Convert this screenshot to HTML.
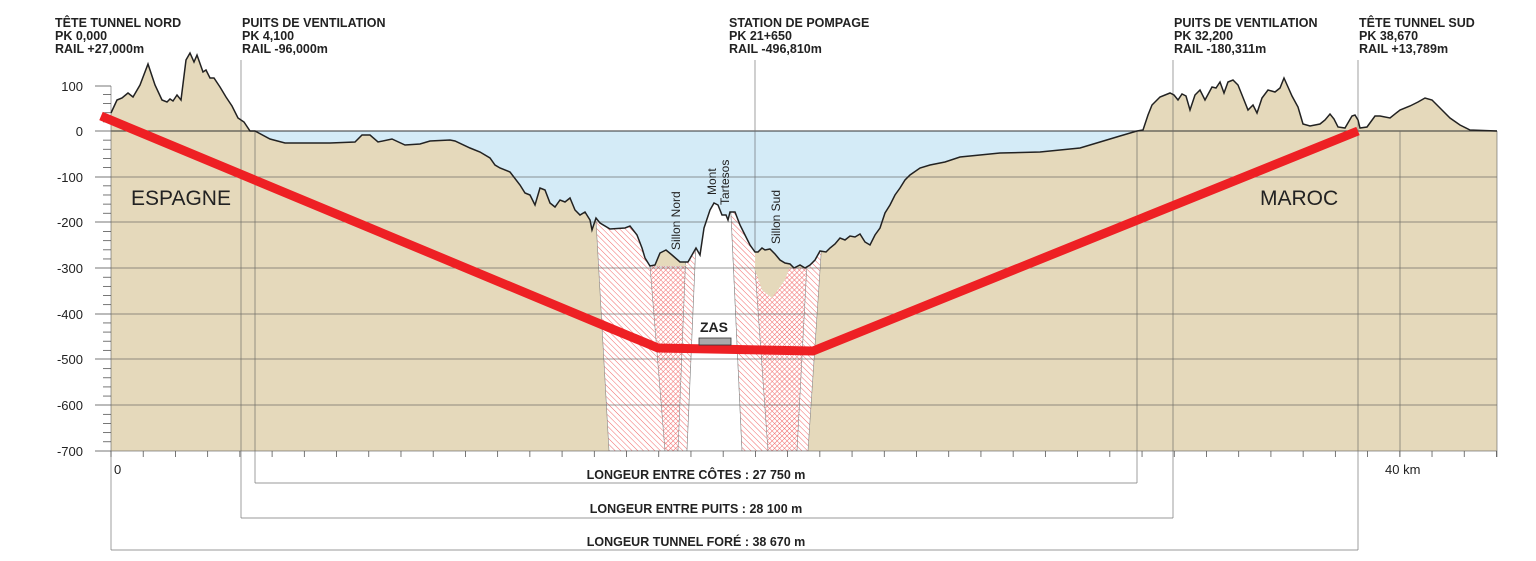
<!DOCTYPE html>
<html><head><meta charset="utf-8"><style>
html,body{margin:0;padding:0;background:#fff;}
svg{display:block;font-family:"Liberation Sans Narrow","Liberation Sans",sans-serif;}
.h{font-size:12.5px;font-weight:bold;fill:#222;}
.yl{font-size:13px;fill:#222;text-anchor:end;}
.b{font-size:12.5px;font-weight:bold;fill:#222;text-anchor:middle;}
</style></head><body>
<svg width="1536" height="561" viewBox="0 0 1536 561" xmlns="http://www.w3.org/2000/svg">
<defs>
<pattern id="diag" width="4" height="4" patternUnits="userSpaceOnUse" patternTransform="rotate(-45)">
<rect width="4" height="4" fill="#fff"/><line x1="0" y1="0" x2="0" y2="4" stroke="#f26a6a" stroke-width="1"/></pattern>
<pattern id="cross" width="3.5" height="3.5" patternUnits="userSpaceOnUse" patternTransform="rotate(45)">
<rect width="3.5" height="3.5" fill="#fff"/><line x1="0" y1="0" x2="0" y2="3.5" stroke="#f26a6a" stroke-width="1"/><line x1="0" y1="0" x2="3.5" y2="0" stroke="#f26a6a" stroke-width="1"/></pattern>
<clipPath id="ground"><polygon id="gp" points="111,451 111,113 117,100 122,98 128,93 133,97 140,85 148,64 155,85 162,100 167,102 170,99 173,101 177,95 181,100 186,60 190,53 194,62 197,55 203,72 206,70 210,78 214,78 220,87 226,97 232,106 238,118 244,122 250,131 255,131 270,139 285,143 300,143 330,143 355,142 362,135 370,135 378,142 392,139 405,145 420,144 430,141 450,140 455,141 470,148 480,152 490,158 495,165 500,168 510,172 520,185 525,193 530,195 535,205 540,188 545,190 550,203 555,207 560,200 565,202 570,198 575,210 580,215 585,212 590,220 592,230 596,218 600,223 610,229 625,228 630,226 637,235 642,248 645,258 650,266 655,265 660,253 666,250 672,255 680,262 688,262 692,255 696,248 700,255 704,228 710,210 714,203 718,205 722,215 726,215 728,220 730,212 735,212 740,225 745,235 750,245 755,252 758,252 762,248 765,250 770,249 775,254 780,260 785,263 790,264 794,268 800,265 805,268 810,265 815,260 820,251 826,252 830,248 835,244 840,238 845,240 850,236 855,237 860,234 865,242 870,245 875,235 880,228 885,213 890,205 895,195 900,188 905,180 910,175 920,168 930,165 945,162 960,157 980,155 1000,153 1040,152 1060,150 1080,148 1100,142 1120,136 1137,131 1143,130 1148,115 1152,105 1160,97 1170,93 1174,95 1178,100 1182,94 1186,96 1190,110 1195,95 1200,90 1205,100 1212,87 1216,88 1220,82 1224,93 1228,82 1233,80 1238,85 1244,100 1248,110 1253,105 1257,113 1262,98 1268,90 1275,92 1280,88 1284,78 1288,87 1292,96 1298,107 1303,124 1310,126 1320,124 1325,120 1330,114 1334,119 1338,127 1345,128 1352,116 1355,115 1358,120 1360,128 1367,127 1375,116 1380,116 1390,118 1400,110 1410,106 1418,102 1425,98 1432,100 1440,108 1450,118 1460,125 1470,130 1497,131 1497,451"/></clipPath>
</defs>
<rect x="255" y="131" width="882" height="140" fill="#d4ebf7"/>
<use href="#gp" fill="#e5d9bb"/>
<g clip-path="url(#ground)">
<polygon points="592,150 650,150 665,451 609,451" fill="url(#diag)" stroke="#888" stroke-width="0.6"/>
<polygon points="650,266 690,266 678,451 665,451" fill="url(#cross)" stroke="#888" stroke-width="0.6"/>
<polygon points="690,150 700,150 687,451 678,451" fill="url(#diag)" stroke="#888" stroke-width="0.6"/>
<polygon points="700,150 728,150 742,451 687,451" fill="#fff" stroke="#888" stroke-width="0.6"/>
<polygon points="728,150 755,150 768,451 742,451" fill="url(#diag)" stroke="#888" stroke-width="0.6"/>
<polygon points="755,268 813,268 797,451 768,451" fill="url(#cross)" stroke="#888" stroke-width="0.6"/>
<polygon points="813,150 828,150 808,451 797,451" fill="url(#diag)" stroke="#888" stroke-width="0.6"/>
<path d="M655,266 L660,253 666,250 672,255 680,262 688,266 Z" fill="#e5d9bb"/>
<path d="M755,252 L762,248 770,249 780,260 790,266 785,280 772,298 762,290 755,270 Z" fill="#e5d9bb"/>
</g>
<g stroke="#555" stroke-width="0.7" fill="none" opacity="0.8">
<line x1="111" y1="131" x2="1497" y2="131" stroke="#333" stroke-width="1.2"/>
<line x1="111" y1="177" x2="1497" y2="177"/><line x1="111" y1="222" x2="1497" y2="222"/>
<line x1="111" y1="268" x2="1497" y2="268"/><line x1="111" y1="314" x2="1497" y2="314"/>
<line x1="111" y1="359" x2="1497" y2="359"/><line x1="111" y1="405" x2="1497" y2="405"/>
<line x1="111" y1="451" x2="1497" y2="451"/>
<line x1="1400" y1="131" x2="1400" y2="457"/><line x1="1497" y1="131" x2="1497" y2="457"/>
<line x1="755" y1="60" x2="755" y2="252"/>
<line x1="241" y1="60" x2="241" y2="518"/><line x1="255" y1="131" x2="255" y2="483"/>
<line x1="1137" y1="131" x2="1137" y2="483"/><line x1="1173" y1="60" x2="1173" y2="518"/>
<line x1="1358" y1="60" x2="1358" y2="550"/><line x1="111" y1="86" x2="111" y2="550"/>
<polyline points="255,483 1137,483"/><polyline points="241,518 1173,518"/><polyline points="111,550 1358,550"/>
</g>
<polyline fill="none" stroke="#222" stroke-width="1.5" points="111,113 117,100 122,98 128,93 133,97 140,85 148,64 155,85 162,100 167,102 170,99 173,101 177,95 181,100 186,60 190,53 194,62 197,55 203,72 206,70 210,78 214,78 220,87 226,97 232,106 238,118 244,122 250,131 255,131 270,139 285,143 300,143 330,143 355,142 362,135 370,135 378,142 392,139 405,145 420,144 430,141 450,140 455,141 470,148 480,152 490,158 495,165 500,168 510,172 520,185 525,193 530,195 535,205 540,188 545,190 550,203 555,207 560,200 565,202 570,198 575,210 580,215 585,212 590,220 592,230 596,218 600,223 610,229 625,228 630,226 637,235 642,248 645,258 650,266 655,265 660,253 666,250 672,255 680,262 688,262 692,255 696,248 700,255 704,228 710,210 714,203 718,205 722,215 726,215 728,220 730,212 735,212 740,225 745,235 750,245 755,252 758,252 762,248 765,250 770,249 775,254 780,260 785,263 790,264 794,268 800,265 805,268 810,265 815,260 820,251 826,252 830,248 835,244 840,238 845,240 850,236 855,237 860,234 865,242 870,245 875,235 880,228 885,213 890,205 895,195 900,188 905,180 910,175 920,168 930,165 945,162 960,157 980,155 1000,153 1040,152 1060,150 1080,148 1100,142 1120,136 1137,131 1143,130 1148,115 1152,105 1160,97 1170,93 1174,95 1178,100 1182,94 1186,96 1190,110 1195,95 1200,90 1205,100 1212,87 1216,88 1220,82 1224,93 1228,82 1233,80 1238,85 1244,100 1248,110 1253,105 1257,113 1262,98 1268,90 1275,92 1280,88 1284,78 1288,87 1292,96 1298,107 1303,124 1310,126 1320,124 1325,120 1330,114 1334,119 1338,127 1345,128 1352,116 1355,115 1358,120 1360,128 1367,127 1375,116 1380,116 1390,118 1400,110 1410,106 1418,102 1425,98 1432,100 1440,108 1450,118 1460,125 1470,130 1497,131"/>
<g stroke="#555" stroke-width="0.8">
<line x1="95" y1="86" x2="111" y2="86"/><line x1="95" y1="131" x2="111" y2="131"/><line x1="95" y1="177" x2="111" y2="177"/><line x1="95" y1="222" x2="111" y2="222"/><line x1="95" y1="268" x2="111" y2="268"/><line x1="95" y1="314" x2="111" y2="314"/><line x1="95" y1="359" x2="111" y2="359"/><line x1="95" y1="405" x2="111" y2="405"/><line x1="95" y1="451" x2="111" y2="451"/>
</g>
<g id="minor" stroke="#555" stroke-width="0.8"></g>
<g class="yl">
<text x="83" y="91">100</text><text x="83" y="136">0</text><text x="83" y="182">-100</text><text x="83" y="227">-200</text><text x="83" y="273">-300</text><text x="83" y="319">-400</text><text x="83" y="364">-500</text><text x="83" y="410">-600</text><text x="83" y="456">-700</text>
</g>
<g id="xt" stroke="#555" stroke-width="0.8"></g>
<text x="114" y="474" style="font-size:13px;fill:#222">0</text>
<text x="1385" y="474" style="font-size:13px;fill:#222">40 km</text>
<polyline points="101,116 658,348 813,351 1358,131" fill="none" stroke="#ee2024" stroke-width="9" stroke-linejoin="round"/>
<rect x="699" y="338" width="32" height="7" fill="#aaa" stroke="#333" stroke-width="0.8"/>
<text x="714" y="332" style="font-size:14px;font-weight:bold;fill:#222" text-anchor="middle">ZAS</text>
<text x="131" y="205" style="font-size:21px;fill:#222">ESPAGNE</text>
<text x="1260" y="205" style="font-size:21px;fill:#222">MAROC</text>
<g style="font-size:12px;fill:#222">
<text transform="translate(680,250) rotate(-90)">Sillon Nord</text>
<text transform="translate(716,195) rotate(-90)">Mont</text>
<text transform="translate(729,205) rotate(-90)">Tartesos</text>
<text transform="translate(780,244) rotate(-90)">Sillon Sud</text>
</g>
<g class="h">
<text x="55" y="27">TÊTE TUNNEL NORD</text><text x="55" y="40">PK 0,000</text><text x="55" y="53">RAIL +27,000m</text>
<text x="242" y="27">PUITS DE VENTILATION</text><text x="242" y="40">PK 4,100</text><text x="242" y="53">RAIL -96,000m</text>
<text x="729" y="27">STATION DE POMPAGE</text><text x="729" y="40">PK 21+650</text><text x="729" y="53">RAIL -496,810m</text>
<text x="1174" y="27">PUITS DE VENTILATION</text><text x="1174" y="40">PK 32,200</text><text x="1174" y="53">RAIL -180,311m</text>
<text x="1359" y="27">TÊTE TUNNEL SUD</text><text x="1359" y="40">PK 38,670</text><text x="1359" y="53">RAIL +13,789m</text>
</g>
<text class="b" x="696" y="479">LONGEUR ENTRE CÔTES : 27 750 m</text>
<text class="b" x="696" y="513">LONGEUR ENTRE PUITS : 28 100 m</text>
<text class="b" x="696" y="546">LONGEUR TUNNEL FORÉ : 38 670 m</text>
<script>
(function(){var ns="http://www.w3.org/2000/svg";
var m=document.getElementById("minor");
for(var v=100;v>=-700;v-=20){if(v%100===0)continue;var y=131-0.457*v;var l=document.createElementNS(ns,"line");l.setAttribute("x1",103);l.setAttribute("x2",111);l.setAttribute("y1",y);l.setAttribute("y2",y);m.appendChild(l);}
var t=document.getElementById("xt");
for(var k=0;k<=43;k++){var x=111+k*32.22;if(x>1498)break;var l2=document.createElementNS(ns,"line");l2.setAttribute("x1",x);l2.setAttribute("x2",x);l2.setAttribute("y1",451);l2.setAttribute("y2",457);t.appendChild(l2);}
})();
</script>
</svg>
</body></html>
